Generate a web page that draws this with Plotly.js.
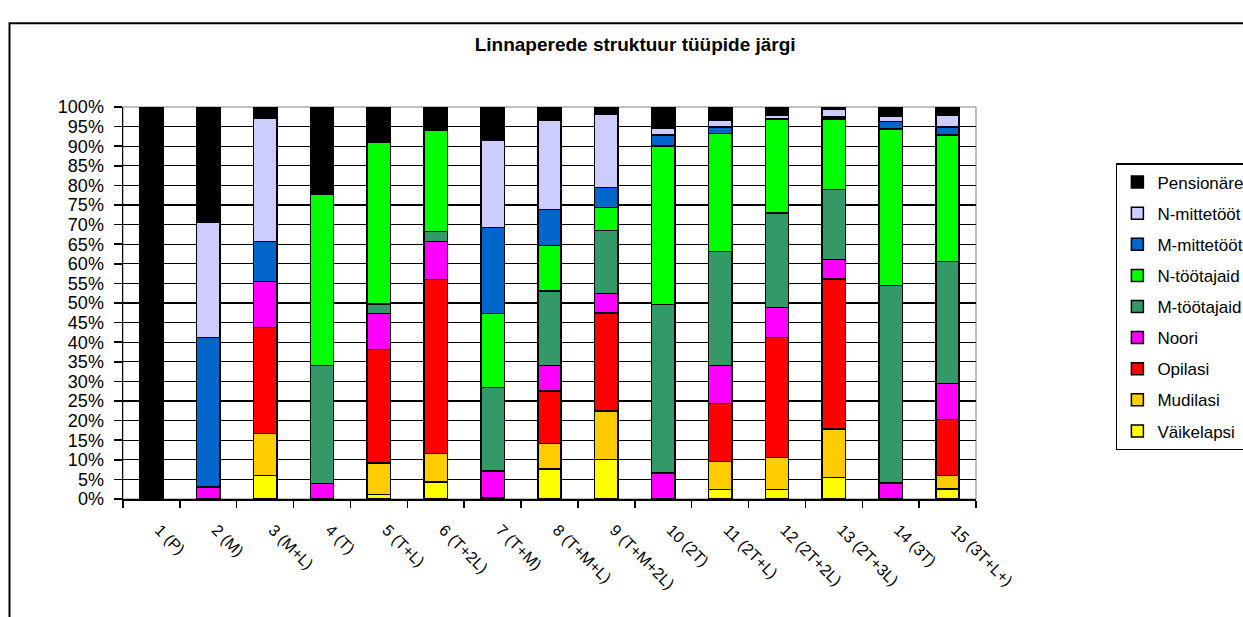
<!DOCTYPE html>
<html>
<head>
<meta charset="utf-8">
<script src="https://cdn.plot.ly/plotly-3.0.1.min.js"></script>
<style>html,body{margin:0;padding:0;background:#fff;}#chart{width:1243px;height:617px;}</style>
</head>
<body>
<div id="chart"></div>
<script>
const categories = ["1 (P)", "2 (M)", "3 (M+L)", "4 (T)", "5 (T+L)", "6 (T+2L)", "7 (T+M)", "8 (T+M+L)", "9 (T+M+2L)", "10 (2T)", "11 (2T+L)", "12 (2T+2L)", "13 (2T+3L)", "14 (3T)", "15 (3T+L+)"];

const vaikelapsi  = [0, 0, 6.0, 0, 1.1, 4.3, 0.4, 7.6, 10.1, 0, 2.4, 2.4, 5.5, 0, 2.6];
const mudilasi    = [0, 0, 10.7, 0, 8.1, 7.3, 0, 6.5, 12.3, 0, 7.2, 8.2, 12.3, 0, 3.4];
const opilasi     = [0, 0, 27.1, 0, 28.9, 44.4, 0, 13.5, 25.0, 0, 14.7, 30.6, 38.3, 0, 14.3];
const noori       = [0, 3.0, 11.7, 3.9, 9.2, 9.7, 6.7, 6.5, 5.0, 6.6, 9.8, 7.7, 5.0, 4.1, 9.2];
const mTootajaid  = [0, 0, 0, 30.2, 2.5, 2.6, 21.4, 18.9, 16.1, 43.0, 29.1, 24.1, 17.9, 50.4, 31.1];
const nTootajaid  = [0, 0, 0, 43.7, 41.2, 25.8, 18.8, 11.7, 5.9, 40.5, 30.1, 23.9, 17.9, 39.9, 32.2];
const mMittetoot  = [0, 38.2, 10.2, 0, 0, 0, 22.0, 9.2, 5.1, 2.7, 1.6, 0.2, 0.5, 1.9, 2.1];
const nMittetoot  = [0, 29.4, 31.5, 0, 0, 0, 22.3, 22.8, 18.7, 1.9, 1.8, 0.9, 1.9, 1.4, 3.0];
const pensionare  = [100, 29.4, 2.8, 22.2, 9.0, 5.9, 8.4, 3.3, 1.8, 5.3, 3.3, 2.0, 0.7, 2.3, 2.1];

const seriesNames = ["Väikelapsi", "Mudilasi", "Opilasi", "Noori", "M-töötajaid", "N-töötajaid", "M-mittetööt", "N-mittetööt", "Pensionäre"];
const seriesValues = [vaikelapsi, mudilasi, opilasi, noori, mTootajaid, nTootajaid, mMittetoot, nMittetoot, pensionare];
const seriesColors = ["#FFFF00", "#FFCC00", "#FF0000", "#FF00FF", "#339966", "#00FF00", "#0066CC", "#CCCCFF", "#000000"];

const yTicks = [0,5,10,15,20,25,30,35,40,45,50,55,60,65,70,75,80,85,90,95,100];

const traces = seriesNames.map((name, i) => ({
  type: 'bar',
  name: name,
  x: categories,
  y: seriesValues[i],
  legendgroup: 'g' + i,
  legendrank: seriesNames.length - i,
  marker: {color: seriesColors[i], line: {color: '#000000', width: 1.5}},
  hoverinfo: 'name+y'
}));

const font = 'Arial, "Liberation Sans", sans-serif';

const layout = {
  width: 1243,
  height: 617,
  barmode: 'stack',
  bargap: 0.59,
  paper_bgcolor: '#ffffff',
  plot_bgcolor: '#ffffff',
  margin: {l: 123, r: 267, t: 107, b: 118, autoexpand: false},
  title: {
    text: '<b>Linnaperede struktuur tüüpide järgi</b>',
    font: {family: font, size: 19, color: '#000'},
    x: 0.511, xref: 'container', xanchor: 'center',
    y: 1 - 44/617, yref: 'container', yanchor: 'middle'
  },
  xaxis: {
    type: 'category',
    tickangle: 45,
    tickfont: {family: font, size: 16, color: '#000'},
    ticks: 'outside',
    tickson: 'boundaries',
    ticklen: 7,
    tickcolor: '#000',
    tickwidth: 1.5,
    ticklabelstandoff: 14,
    ticklabelshift: 8,
    showline: true,
    linecolor: '#000',
    linewidth: 1.5,
    showgrid: false,
    zeroline: false,
    fixedrange: true
  },
  yaxis: {
    range: [0, 100],
    tickvals: yTicks,
    ticktext: yTicks.map(v => v + '%'),
    tickfont: {family: font, size: 18, color: '#000'},
    ticks: 'outside',
    ticklen: 8,
    tickcolor: '#000',
    tickwidth: 1.5,
    ticklabelstandoff: 6,
    showline: true,
    linecolor: '#000',
    linewidth: 1.5,
    showgrid: true,
    gridcolor: '#000',
    gridwidth: 1.2,
    zeroline: false,
    fixedrange: true
  },
  legend: {
    x: 1.164, xanchor: 'left',
    y: 0.857, yanchor: 'top',
    bordercolor: '#000',
    borderwidth: 1.5,
    bgcolor: '#fff',
    font: {family: font, size: 17, color: '#000'},
    traceorder: 'grouped',
    tracegroupgap: 6,
    itemwidth: 30
  },
  shapes: [
    {type: 'rect', xref: 'paper', yref: 'paper', x0: 0, x1: 1, y0: 0, y1: 1,
     line: {color: '#808080', width: 1}, layer: 'below'},
    {type: 'rect', xref: 'paper', yref: 'paper', x0: (9.5-123)/853, x1: 1.5, y0: -0.5, y1: (499.3-23.5)/392,
     line: {color: '#000', width: 2}, layer: 'below'}
  ]
};

Plotly.newPlot('chart', traces, layout, {displayModeBar: false, staticPlot: true});
</script>
</body>
</html>
